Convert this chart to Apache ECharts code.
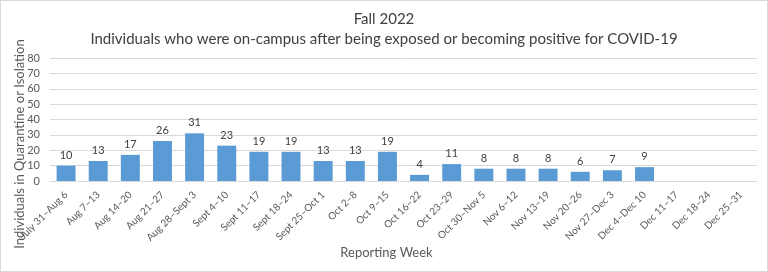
<!DOCTYPE html>
<html>
<head>
<meta charset="utf-8">
<script src="https://cdn.jsdelivr.net/npm/echarts@6/dist/echarts.min.js"></script>
<style>
html, body { margin: 0; padding: 0; background: #fff; }
#chart { width: 766px; height: 270px; border: 1px solid #d9d9d9; }
</style>
</head>
<body>
<div id="chart"></div>
<script>
// 每周数据
var weeks = ['July 31\u2013Aug 6', 'Aug 7\u201313', 'Aug 14\u201320', 'Aug 21\u201327', 'Aug 28\u2013Sept 3',
	'Sept 4\u201310', 'Sept 11\u201317', 'Sept 18\u201324', 'Sept 25\u2013Oct 1', 'Oct 2\u20138', 'Oct 9\u201315',
	'Oct 16\u201322', 'Oct 23\u201329', 'Oct 30\u2013Nov 5', 'Nov 6\u201312', 'Nov 13\u201319', 'Nov 20\u201326',
	'Nov 27\u2013Dec 3', 'Dec 4\u2013Dec 10', 'Dec 11\u201317', 'Dec 18\u201324', 'Dec 25\u201331'];
var individuals = [10, 13, 17, 26, 31, 23, 19, 19, 13, 13, 19, 4, 11, 8, 8, 8, 6, 7, 9, null, null, null];
var yTitle = 'Individuals in Quarantine or Isolation';

var font = 'Lato, "Open Sans", sans-serif';
var textColor = '#595959';

var myChart = echarts.init(document.getElementById('chart'));
var option = {
	animation: false,
	title: [{
		text: 'Fall 2022',
		left: 'center',
		top: 6,
		textStyle: { fontFamily: font, fontSize: 15, fontWeight: 'normal', color: '#404040' }
	}, {
		text: 'Individuals who were on-campus after being exposed or becoming positive for COVID-19',
		left: 'center',
		top: 26,
		textStyle: { fontFamily: font, fontSize: 15, fontWeight: 'normal', color: '#404040' }
	}],
	//纵轴标题（Excel 中略偏下）
	graphic: [{
		type: 'text',
		x: 19,
		y: 143,
		rotation: Math.PI / 2,
		style: {
			text: yTitle,
			fontFamily: font,
			fontSize: 13,
			fill: textColor,
			align: 'center',
			verticalAlign: 'middle'
		}
	}],
	grid: {
		left: 49,
		right: 10,
		top: 57,
		bottom: 90
	},
	xAxis: {
		type: 'category',
		data: weeks,
		name: 'Reporting Week',
		nameLocation: 'middle',
		nameGap: 62,
		nameTextStyle: { fontFamily: font, fontSize: 13, color: textColor, padding: [0, 34, 0, 0] },
		axisTick: { show: false },
		axisLine: { lineStyle: { color: '#d9d9d9' } },
		axisLabel: {
			interval: 0,
			rotate: 45,
			fontFamily: font,
			fontSize: 10,
			color: textColor,
			margin: 12
		}
	},
	yAxis: {
		type: 'value',
		min: 0,
		max: 80,
		interval: 10,
		axisLine: { show: false },
		axisTick: { show: false },
		splitLine: { lineStyle: { color: '#d9d9d9' } },
		axisLabel: { fontFamily: font, fontSize: 11, color: textColor, margin: 10 }
	},
	series: [{
		name: 'Individuals',
		type: 'bar',
		data: individuals,
		barWidth: '59%',
		itemStyle: { color: '#5b9bd5' },
		label: {
			show: true,
			position: 'top',
			fontFamily: font,
			fontSize: 11,
			color: '#404040',
			distance: 5
		}
	}]
};
myChart.setOption(option);
</script>
</body>
</html>
